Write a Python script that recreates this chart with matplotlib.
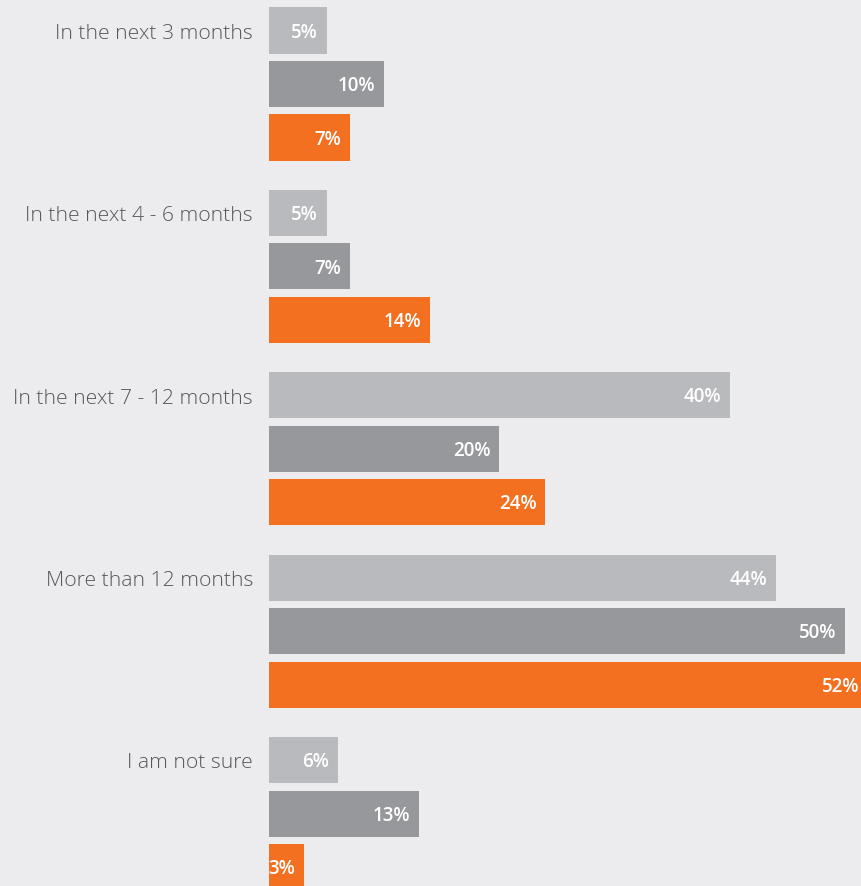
import numpy as np
import matplotlib.pyplot as plt

# survey answers: three series per timing bucket
categories = ["In the next 3 months", "In the next 4 - 6 months",
              "In the next 7 - 12 months", "More than 12 months", "I am not sure"]
series_a = [5, 5, 40, 44, 6]
series_b = [10, 7, 20, 50, 13]
series_c = [7, 14, 24, 52, 3]

colors = ["#b9babd", "#97989b", "#f37021"]
bg = "#ececee"

W, H = 862, 887
fig = plt.figure(figsize=(W / 100, H / 100), dpi=100, facecolor=bg)
left = 269 / W
ax = fig.add_axes([left, 0, 1 - left, 1])
ax.set_facecolor(bg)

px_per_pct = 11.52
ax.set_xlim(0, (W - 269) / px_per_pct)

bar_pitch = 53.5
group_gap = 3.41
top = -31.5 / bar_pitch
ax.set_ylim(top + H / bar_pitch, top)

for j, (vals, c) in enumerate(zip([series_a, series_b, series_c], colors)):
    ys = np.arange(len(categories)) * group_gap + j
    ax.barh(ys, vals, height=0.86, color=c, linewidth=0)
    for y, v in zip(ys, vals):
        ax.text(v - 9 / px_per_pct, y + 0.02, f"{v}%", ha="right", va="center",
                color="white", fontsize=13.5, fontweight="semibold", family="Open Sans")

for g, cat in enumerate(categories):
    ax.text(-16 / px_per_pct, g * group_gap + 0.04, cat, ha="right", va="center",
            color="#58585a", fontsize=15.2, fontweight="light", family="Open Sans",
            clip_on=False)

ax.axis("off")
fig.savefig("out.png", dpi=100, facecolor=bg)
